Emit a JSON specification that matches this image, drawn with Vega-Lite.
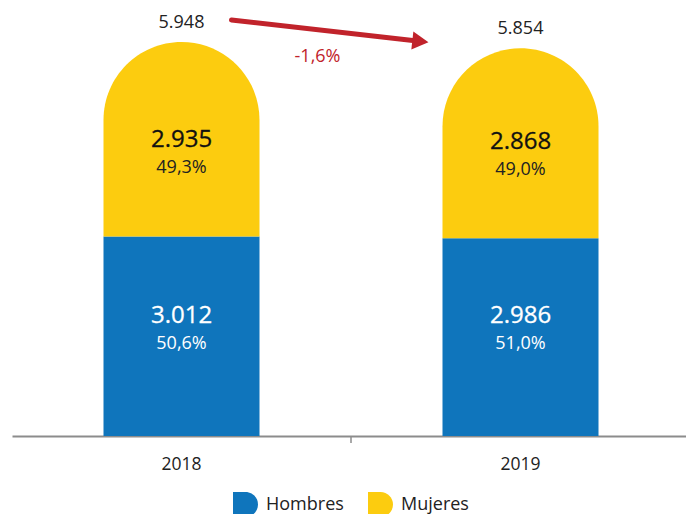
{
  "$schema": "https://vega.github.io/schema/vega-lite/v6.json",
  "autosize": {"type": "none"},
  "width": 678,
  "height": 436,
  "padding": {"left": 12, "top": 0, "right": 0, "bottom": 78},
  "background": "white",
  "config": {
    "view": {"stroke": null},
    "font": "Open Sans",
    "text": {"font": "Open Sans"}
  },
  "datasets": {
    "bars": [
      {"year": "2018", "sexo": "Hombres", "valor": 3012, "label": "3.012", "pct": "50,6%"},
      {"year": "2018", "sexo": "Mujeres", "valor": 2935, "label": "2.935", "pct": "49,3%"},
      {"year": "2019", "sexo": "Hombres", "valor": 2986, "label": "2.986", "pct": "51,0%"},
      {"year": "2019", "sexo": "Mujeres", "valor": 2868, "label": "2.868", "pct": "49,0%"}
    ],
    "totals": [
      {"year": "2018", "total": 5948, "label": "5.948"},
      {"year": "2019", "total": 5854, "label": "5.854"}
    ],
    "arrow": [
      {"from": "2018", "to": "2019", "ystart": 6280, "yend": 5958, "label": "-1,6%"}
    ]
  },
  "layer": [
    {
      "data": {"name": "bars"},
      "transform": [
        {"stack": "valor", "groupby": ["year"], "sort": [{"field": "sexo", "order": "ascending"}], "as": ["y0", "y1"]}
      ],
      "encoding": {
        "x": {
          "field": "year", "type": "nominal",
          "scale": {"type": "band", "paddingInner": 0, "paddingOuter": 0},
          "axis": {
            "title": null, "labelAngle": 0, "domainColor": "#8c8c8c", "domainWidth": 2,
            "ticks": false,
            "labelFontSize": 17.5, "labelPadding": 19, "labelColor": "#222222", "labelFont": "Open Sans"
          }
        },
        "y": {
          "field": "y1", "type": "quantitative",
          "scale": {"domain": [0, 6582], "nice": false, "zero": true},
          "axis": null
        }
      },
      "layer": [
        {
          "transform": [{"filter": "datum.sexo == 'Hombres'"}],
          "mark": {"type": "bar", "size": 156},
          "encoding": {
            "y2": {"field": "y0"},
            "color": {
              "field": "sexo", "type": "nominal",
              "scale": {"domain": ["Hombres", "Mujeres"], "range": ["#0F75BC", "#FCCC0F"]},
              "legend": {
                "title": null, "orient": "none", "direction": "horizontal",
                "legendX": 221, "legendY": 492,
                "symbolType": "M-1,-1 L0,-1 A1,1 0 0 1 0,1 L-1,1 Z",
                "symbolSize": 625, "symbolStrokeWidth": 0, "symbolOpacity": 1,
                "labelFontSize": 18, "labelColor": "#222222", "labelFont": "Open Sans",
                "labelOffset": 8, "columnPadding": 24, "padding": 0
              }
            }
          }
        },
        {
          "transform": [{"filter": "datum.sexo == 'Mujeres'"}],
          "mark": {"type": "bar", "size": 156, "cornerRadiusTopLeft": 78, "cornerRadiusTopRight": 78},
          "encoding": {
            "y2": {"field": "y0"},
            "color": {"field": "sexo", "type": "nominal"}
          }
        },
        {
          "transform": [{"filter": "datum.sexo == 'Mujeres'"}],
          "mark": {"type": "text", "baseline": "middle", "dy": -96, "fontSize": 24, "color": "#111111", "stroke": "#111111", "strokeWidth": 0.3},
          "encoding": {"y": {"field": "y0", "type": "quantitative"}, "text": {"field": "label"}}
        },
        {
          "transform": [{"filter": "datum.sexo == 'Mujeres'"}],
          "mark": {"type": "text", "baseline": "middle", "dy": -68, "fontSize": 18, "color": "#222222"},
          "encoding": {"y": {"field": "y0", "type": "quantitative"}, "text": {"field": "pct"}}
        },
        {
          "transform": [{"filter": "datum.sexo == 'Hombres'"}],
          "mark": {"type": "text", "baseline": "middle", "dy": -120, "fontSize": 24, "color": "#ffffff", "stroke": "#ffffff", "strokeWidth": 0.3},
          "encoding": {"y": {"field": "y0", "type": "quantitative"}, "text": {"field": "label"}}
        },
        {
          "transform": [{"filter": "datum.sexo == 'Hombres'"}],
          "mark": {"type": "text", "baseline": "middle", "dy": -92, "fontSize": 18, "color": "#ffffff"},
          "encoding": {"y": {"field": "y0", "type": "quantitative"}, "text": {"field": "pct"}}
        }
      ]
    },
    {
      "data": {"name": "totals"},
      "layer": [
        {
          "mark": {"type": "text", "baseline": "middle", "dy": -19, "fontSize": 18, "color": "#222222"},
          "encoding": {
            "x": {"field": "year", "type": "nominal"},
            "y": {"field": "total", "type": "quantitative"},
            "text": {"field": "label"}
          }
        },
        {
          "transform": [{"filter": "datum.year == '2019'"}],
          "mark": {"type": "rule", "color": "#8c8c8c", "strokeWidth": 1.5, "y2Offset": 7},
          "encoding": {
            "x": {"field": "year", "type": "nominal", "bandPosition": 0},
            "y": {"datum": 0, "type": "quantitative"},
            "y2": {"datum": 0}
          }
        }
      ]
    },
    {
      "data": {"name": "arrow"},
      "layer": [
        {
          "mark": {"type": "rule", "color": "#C1232B", "strokeWidth": 5, "strokeCap": "round", "xOffset": 50, "x2Offset": -101},
          "encoding": {
            "x": {"field": "from", "type": "nominal"},
            "x2": {"field": "to"},
            "y": {"field": "ystart", "type": "quantitative"},
            "y2": {"field": "yend"}
          }
        },
        {
          "mark": {"type": "point", "shape": "M-0.8,-1 L1,0 L-0.8,1 Z", "filled": true, "opacity": 1, "color": "#C1232B", "size": 324, "angle": 6.5, "xOffset": -101, "strokeWidth": 0},
          "encoding": {
            "x": {"field": "to", "type": "nominal"},
            "y": {"field": "yend", "type": "quantitative"}
          }
        },
        {
          "mark": {"type": "text", "baseline": "middle", "fontSize": 18, "color": "#C1232B", "xOffset": 136, "dy": 16},
          "encoding": {
            "x": {"field": "from", "type": "nominal"},
            "y": {"field": "yend", "type": "quantitative"},
            "text": {"field": "label"}
          }
        }
      ]
    }
  ]
}
